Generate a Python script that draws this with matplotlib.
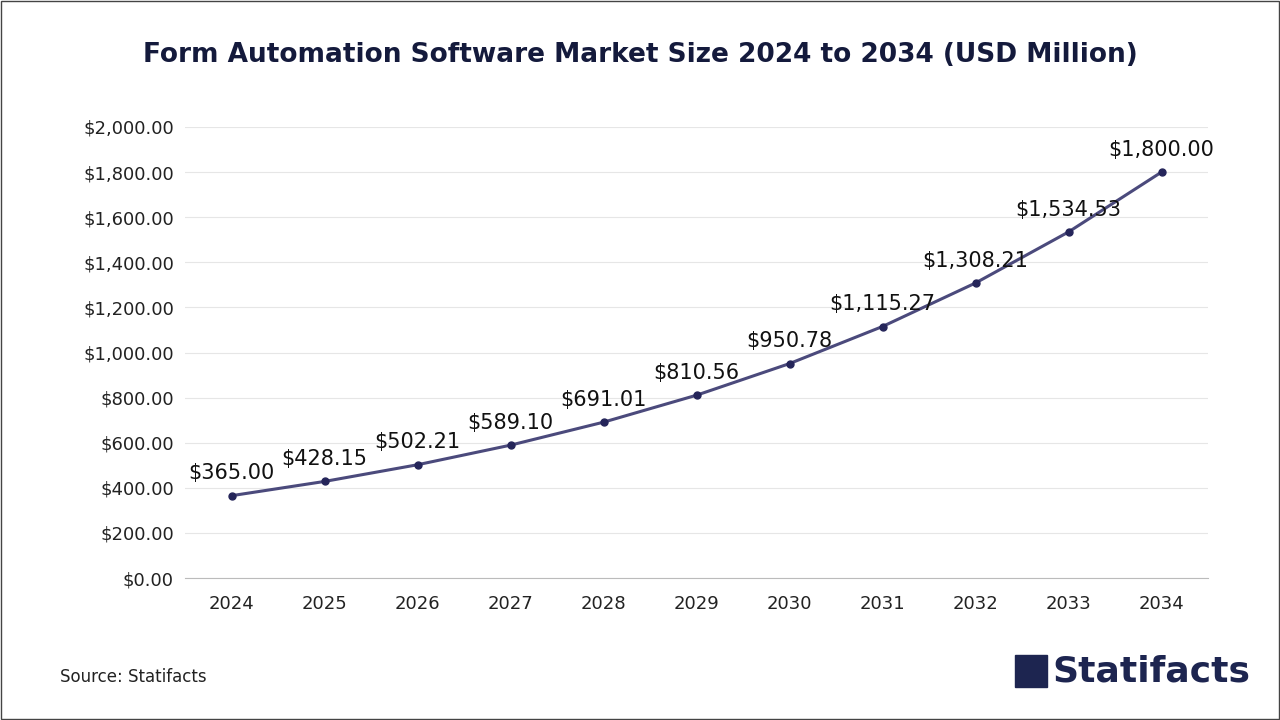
import matplotlib.pyplot as plt
from matplotlib.patches import Rectangle

years = ["2024", "2025", "2026", "2027", "2028", "2029", "2030", "2031", "2032", "2033", "2034"]
values = [365.00, 428.15, 502.21, 589.10, 691.01, 810.56, 950.78, 1115.27, 1308.21, 1534.53, 1800.00]
yticks = [0, 200, 400, 600, 800, 1000, 1200, 1400, 1600, 1800, 2000]

fig = plt.figure(figsize=(12.8, 7.2), dpi=100)
ax = fig.add_axes([185 / 1280, 1 - 578 / 720, 1023 / 1280, 451 / 720])

x = range(len(years))
ax.plot(x, values, color="#4b4a7c", linewidth=2.2, marker="o", markersize=5,
        markerfacecolor="#25255a", markeredgecolor="#25255a", zorder=3)
for i, v in enumerate(values):
    ax.text(i, v + 55, f"${v:,.2f}", ha="center", va="bottom", fontsize=15,
            color="#111111", family="DejaVu Sans")

ax.set_xlim(-0.5, len(years) - 0.5)
ax.set_ylim(0, 2000)
ax.set_xticks(list(x))
ax.set_xticklabels(years)
ax.set_yticks(yticks)
ax.set_yticklabels([f"${t:,.2f}" for t in yticks])
ax.tick_params(axis="both", length=0, labelsize=13, colors="#222222")
ax.tick_params(axis="x", pad=12)
ax.tick_params(axis="y", pad=8)
ax.grid(axis="y", color="#e6e6e6", linewidth=0.8)
for s in ["top", "right", "left"]:
    ax.spines[s].set_visible(False)
ax.spines["bottom"].set_color("#bbbbbb")
ax.set_axisbelow(True)

fig.text(0.5, 1 - 55 / 720, "Form Automation Software Market Size 2024 to 2034 (USD Million)",
         ha="center", va="center", fontsize=19, fontweight="bold", color="#141a3c")
fig.text(60 / 1280, 1 - 677 / 720, "Source: Statifacts", ha="left", va="center",
         fontsize=12, color="#222222")

# logo
fig.patches.append(Rectangle((1015 / 1280, 1 - 687 / 720), 32 / 1280, 32 / 720,
                             transform=fig.transFigure, color="#1d2550"))
fig.text(1052 / 1280, 1 - 671 / 720, "Statifacts", ha="left", va="center",
         fontsize=26, fontweight="bold", color="#1d2550")

fig.patches.append(Rectangle((0.0008, 0.0012), 0.9984, 0.9976, transform=fig.transFigure,
                             fill=False, edgecolor="#444444", linewidth=1))

fig.savefig("out.png", dpi=100)
